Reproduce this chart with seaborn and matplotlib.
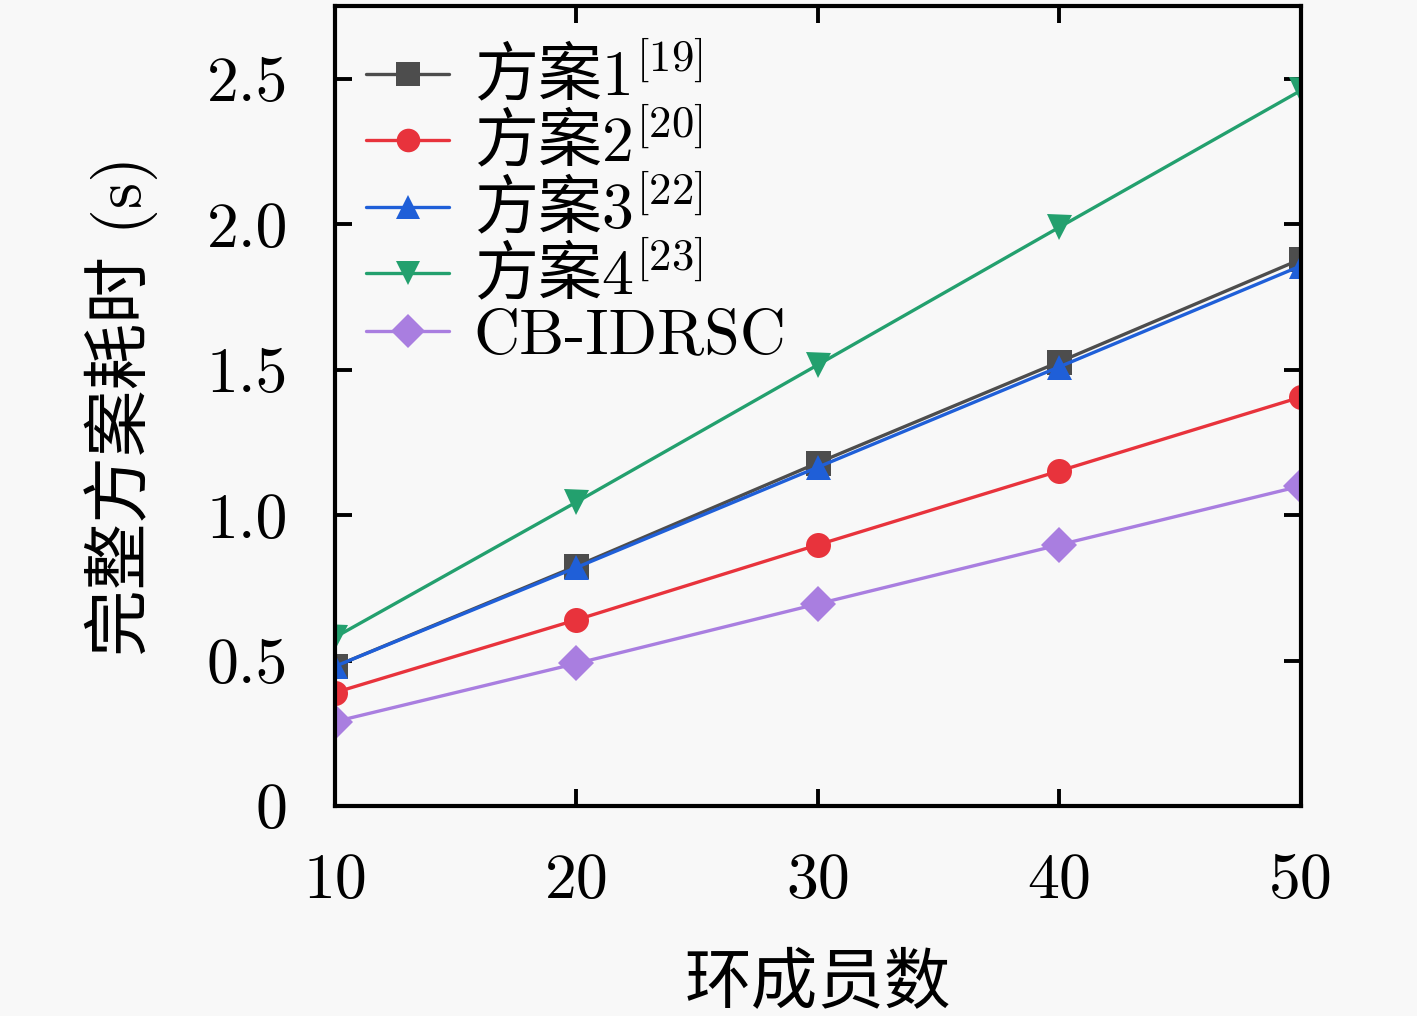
import pandas as pd
import matplotlib
matplotlib.use('Agg')
import matplotlib.pyplot as plt
import seaborn as sns

# 数据
members = [10, 20, 30, 40, 50]
scheme1 = [0.48, 0.825, 1.18, 1.527, 1.88]
scheme2 = [0.39, 0.64, 0.898, 1.152, 1.406]
scheme3 = [0.48, 0.82, 1.165, 1.51, 1.857]
scheme4 = [0.58, 1.045, 1.517, 1.99, 2.46]
cbidrsc = [0.29, 0.49, 0.695, 0.898, 1.10]

labels = [r'方案$\mathrm{1}^{\mathrm{[19]}}$', r'方案$\mathrm{2}^{\mathrm{[20]}}$',
          r'方案$\mathrm{3}^{\mathrm{[22]}}$', r'方案$\mathrm{4}^{\mathrm{[23]}}$',
          'CB-IDRSC']
colors = ['#4d4d4d', '#e8333c', '#1f5fd8', '#23a06e', '#a97ee0']
markers = ['s', 'o', '^', 'v', 'D']

series = [scheme1, scheme2, scheme3, scheme4, cbidrsc]
df = pd.concat([pd.DataFrame({'环成员数': members, '耗时': s, '方案': lab})
                for s, lab in zip(series, labels)], ignore_index=True)

sns.set_style('ticks')
plt.rcParams['font.family'] = ['cmr10', 'Noto Sans CJK SC', 'DejaVu Sans']
plt.rcParams['mathtext.fontset'] = 'cm'
plt.rcParams['axes.unicode_minus'] = False

fig = plt.figure(figsize=(14.17, 10.16), dpi=100, facecolor='#f8f8f8')
ax = fig.add_axes([0.2364, 0.2067, 0.6817, 0.7873])
ax.set_facecolor('#f8f8f8')

sns.lineplot(data=df, x='环成员数', y='耗时', hue='方案', style='方案',
             palette=colors, markers=markers, dashes=False, ax=ax,
             linewidth=2.4, markersize=18, markeredgewidth=0)

ax.set_xlim(10, 50)
ax.set_ylim(0, 2.75)
ax.set_xticks(members)
ax.set_xticklabels([str(m) for m in members])
ax.set_yticks([0, 0.5, 1.0, 1.5, 2.0, 2.5])
ax.set_yticklabels(['0', '0.5', '1.0', '1.5', '2.0', '2.5'])
ax.tick_params(direction='in', length=12, width=2.8, labelsize=46,
               top=True, right=True, pad=34, color='black', labelcolor='black')
for sp in ax.spines.values():
    sp.set_linewidth(3)
    sp.set_color('black')
    sp.set_visible(True)

ax.set_xlabel('环成员数', fontsize=48, color='black')
ax.set_ylabel('完整方案耗时 (s)', fontsize=48, color='black')
ax.xaxis.set_label_coords(0.5, -0.185)
ax.yaxis.set_label_coords(-0.183, 0.5)

handles, labs = ax.get_legend_handles_labels()
leg = ax.legend(handles, labs, loc='upper left', frameon=False, fontsize=46,
                handlelength=1.3, handletextpad=0.38, labelspacing=-0.03,
                borderaxespad=0, bbox_to_anchor=(0.006, 0.985))
for h in leg.legend_handles:
    h.set_linewidth(2.4)
    h.set_markersize(17)
for t in leg.get_texts()[:4]:
    t.set_fontfamily('Noto Sans CJK SC')
for t in leg.get_texts():
    t.set_color('black')

fig.savefig('out.png', dpi=100, facecolor=fig.get_facecolor())
